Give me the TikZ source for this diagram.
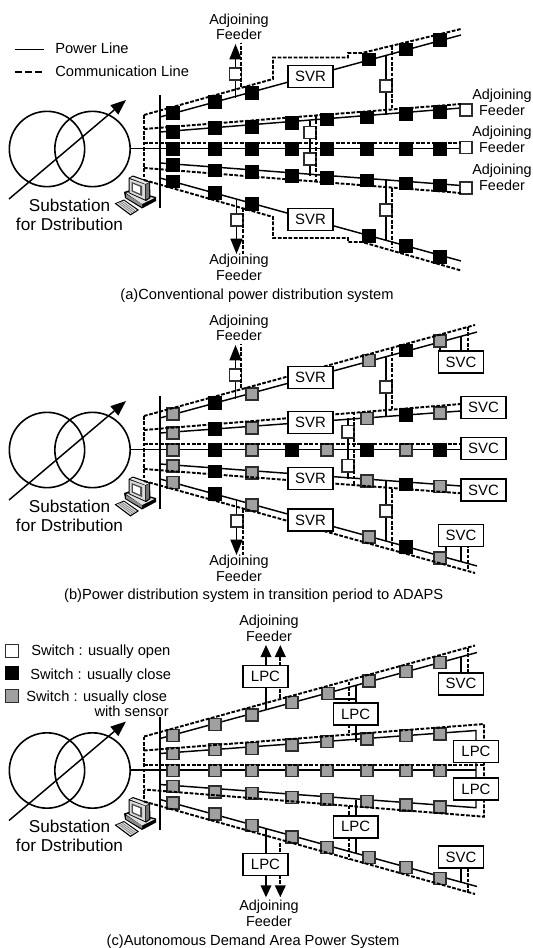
\documentclass[tikz,border=0pt]{standalone}
\usepackage{fontspec}
\setmainfont{Liberation Sans}
\usepackage{tikz}
\usetikzlibrary{arrows.meta, positioning, calc}
\definecolor{sensorgray}{RGB}{160,160,160}
\definecolor{switchedge}{RGB}{45,45,45}

\tikzset{
    pow/.style={line width=1.1pt, draw=black},
    comm/.style={line width=1.45pt, draw=black, dash pattern=on 2.8pt off 1.2pt},
    fat/.style={-{Triangle[length=11.5pt, width=9pt]}},
    thin arrow/.style={-{Triangle[length=9pt, width=8pt]}},
    swo/.style={rectangle, draw=switchedge, fill=white, line width=1pt, minimum size=9.2pt, inner sep=0pt},
    swk/.style={swo, draw=black, fill=black},
    swg/.style={swo, fill=sensorgray},
    unit/.style={rectangle, draw=black, fill=white, line width=1.15pt, minimum width=33.5pt, minimum height=16.5pt, inner sep=0pt, font=\fontsize{11.2pt}{12pt}\selectfont},
    lbl/.style={inner sep=0pt, font=\fontsize{11pt}{13pt}\selectfont},
    adj/.style={inner sep=0pt, align=center, font=\fontsize{10.8pt}{11.6pt}\selectfont},
    captxt/.style={lbl, anchor=base},
    xfmr/.style={circle, draw=black, line width=1.2pt, minimum size=56.5pt, inner sep=0pt}
}

\newcommand{\swrow}[2]{
    \foreach \xx/\yy/\kk [count=\n] in {#2} {\node[sw\kk] (#1\n) at (\xx,\yy) {};}
}

\newcommand{\pcicon}{
    \fill[black] (124,192) -- (130,190) -- (156,197) -- (156,201) -- (142,208.5) -- (125,198) -- cycle;
    \fill[black!12] (126,193) -- (130,192) -- (154.5,198) -- (142,204) -- cycle;
    \fill[black!45] (126,194) -- (142,204) -- (142,207) -- (126,197.5) -- cycle;
    \fill[black] (128.5,178) -- (133,175.5) -- (150,181.5) -- (150.5,198) -- (146,201) -- (128.5,193) -- cycle;
    \fill[black!10] (130,178) -- (133,176.8) -- (148.8,182.3) -- (145.5,184) -- cycle;
    \fill[black!55] (145.8,184.5) -- (149,183) -- (149.2,197.5) -- (146,199.5) -- cycle;
    \fill[black!15] (129.5,179) -- (145,184.5) -- (145,199.5) -- (129.5,192.5) -- cycle;
    \fill[black!70] (131.5,182) -- (142,186) -- (142,196) -- (131.5,191.3) -- cycle;
    \fill[white] (133,184) -- (140,186.8) -- (140,193.6) -- (133,190.5) -- cycle;
    \fill[black] (114.5,203.5) -- (124,199.5) -- (139,210) -- (130.5,215.5) -- cycle;
    \fill[black!15] (116.5,203.5) -- (124,200.7) -- (137,210) -- (130.5,214) -- cycle;
    \foreach \kb in {0.25,0.5,0.75} {\draw[black!60, line width=0.3pt] ($(116.5,203.5)!\kb!(124,200.7)$) -- ($(130.5,214)!\kb!(137,210)$);}
}

\newcommand{\substation}{
    \node[xfmr] (xl) at (47,149) {};
    \node[xfmr] (xr) at (92.5,149) {};
    \coordinate (busa) at (160,95);
    \coordinate (busb) at (160,208);
    \coordinate (ina) at (9,199);
    \coordinate (inb) at (126,100);
    \coordinate (f1) at (160,117);
    \coordinate (f2) at (160,132);
    \coordinate (f4) at (160,163);
    \coordinate (f5) at (160,178);
    \coordinate (d1) at (144,115);
    \coordinate (d2) at (144,129);
    \coordinate (d3) at (144,143.3);
    \coordinate (d4) at (144,168);
    \coordinate (d5) at (144,180);
    \draw[pow] (busa) -- (busb);
    \draw[pow, fat] (ina) -- (inb);
    \node[inner sep=0pt, align=center, font=\fontsize{12.9pt}{14.2pt}\selectfont] (subst) at (69.5,214.5) {Substation\\for Dstribution};
    \draw[comm] (d1) -- (d5);
    \pcicon
}

\newcommand{\adjoiningpair}{
    \coordinate (upa) at (235.5,98);
    \coordinate (upb) at (235.5,44);
    \coordinate (upc) at (241,87);
    \coordinate (upd) at (241,43);
    \coordinate (dna) at (236.5,199);
    \coordinate (dnb) at (236.5,254);
    \coordinate (dnc) at (243,208);
    \coordinate (dnd) at (243,256);
    \draw[pow, fat] (upa) -- (upb);
    \draw[pow, fat] (dna) -- (dnb);
    \node[swo] (wu) at (235.5,74) {};
    \node[swo] (wd) at (237,220) {};
    \draw[comm] (upc) -- (upd);
    \draw[comm] (dnc) -- (dnd);
    \node[adj] (adjtop) at (239,27) {Adjoining\\Feeder};
    \node[adj] (adjbot) at (239,267.5) {Adjoining\\Feeder};
}

\newcommand{\rightties}{
    \coordinate (rua) at (386,55);
    \coordinate (rub) at (386,115);
    \coordinate (ruc) at (392,46);
    \coordinate (rud) at (392,108);
    \coordinate (rla) at (386,180);
    \coordinate (rlb) at (386,240);
    \coordinate (rlc) at (392,188);
    \coordinate (rld) at (392,248);
    \draw[pow] (rua) -- (rub);
    \draw[pow] (rla) -- (rlb);
    \node[swo] (wru) at (386,86) {};
    \node[swo] (wrl) at (386,210) {};
    \draw[comm] (ruc) -- (rud);
    \draw[comm] (rlc) -- (rld);
}

\begin{document}
\begin{tikzpicture}[x=0.75pt, y=-0.75pt]
    \useasboundingbox (0,0) rectangle (532,948);

    \begin{scope}[name prefix=a-]
        \coordinate (lega) at (15,49.5);
        \coordinate (legb) at (44,49.5);
        \coordinate (legc) at (15,72.5);
        \coordinate (legd) at (44,72.5);
        \draw[line width=0.8pt] (lega) -- (legb);
        \draw[line width=1.5pt, dash pattern=on 5.2pt off 2.4pt] (legc) -- (legd);
        \node[lbl, anchor=base west] (legpow) at (55,53.5) {Power Line};
        \node[lbl, anchor=base west] (legcom) at (55,76.5) {Communication Line};
        \substation
        \coordinate (f1e) at (461,35);
        \coordinate (f2e) at (461,108);
        \coordinate (f3e) at (461,148.5);
        \coordinate (f4e) at (461,185.5);
        \coordinate (f5e) at (461,261);
        \coordinate (s3) at (130,148.5);
        \draw[pow] (f1) -- (f1e);
        \draw[pow] (f2) -- (f2e);
        \draw[pow] (s3) -- (f3e);
        \draw[pow] (f4) -- (f4e);
        \draw[pow] (f5) -- (f5e);
        \adjoiningpair
        \rightties
        \coordinate (ma) at (310,121);
        \coordinate (mb) at (310,176);
        \coordinate (mc) at (316,115);
        \coordinate (md) at (316,182);
        \draw[pow] (ma) -- (mb);
        \node[swo] (wm1) at (310,132.5) {};
        \node[swo] (wm2) at (310,159) {};
        \draw[comm] (mc) -- (md);
        \swrow{p}{173/113/k,215/102/k,252/93/k,369/59.5/k,406/49.5/k,440/40/k}
        \swrow{q}{173/132/k,215/128/k,252/127/k,292/123/k,327/119.5/k,367/117.5/k,406/114/k,440/112/k}
        \swrow{r}{173/149/k,215/149/k,252/149/k,292/149/k,327/149/k,367/149/k,406/149/k,440/149/k}
        \swrow{t}{173/165/k,215/170.5/k,252/172/k,292/176/k,327/178/k,367/180.5/k,406/183.5/k,440/185.5/k}
        \swrow{u}{173/181.5/k,215/193/k,252/204/k,369/236/k,406/246/k,440/257/k}
        \node[swo] (wf2) at (466,110) {};
        \node[swo] (wf3) at (466,147.5) {};
        \node[swo] (wf4) at (466,188) {};
        \coordinate (d1a) at (273,79);
        \coordinate (d1b) at (273,57.5);
        \coordinate (d1c) at (348,57.5);
        \coordinate (d1d) at (348,53);
        \coordinate (d1e) at (362,53);
        \coordinate (d1f) at (461,29);
        \draw[comm] (d1) -- (d1a) -- (d1b) -- (d1c) -- (d1d) -- (d1e) -- (d1f);
        \coordinate (d5a) at (273,217);
        \coordinate (d5b) at (273,238);
        \coordinate (d5c) at (348,238);
        \coordinate (d5d) at (348,242);
        \coordinate (d5e) at (362,242);
        \coordinate (d5f) at (461,270.5);
        \draw[comm] (d5) -- (d5a) -- (d5b) -- (d5c) -- (d5d) -- (d5e) -- (d5f);
        \coordinate (d2e) at (461,104);
        \coordinate (d3e) at (461,143.3);
        \coordinate (d4e) at (461,193);
        \draw[comm] (d2) -- (d2e);
        \draw[comm] (d3) -- (d3e);
        \draw[comm] (d4) -- (d4e);
        \node[unit] (svr1) at (310.5,76.5) {SVR};
        \node[unit] (svr2) at (310.5,219.5) {SVR};
        \node[adj, font=\fontsize{10.8pt}{12pt}\selectfont] (adj2) at (502,102) {Adjoining\\Feeder};
        \node[adj, font=\fontsize{10.8pt}{12pt}\selectfont] (adj3) at (502,139) {Adjoining\\Feeder};
        \node[adj, font=\fontsize{10.8pt}{12pt}\selectfont] (adj4) at (502,177) {Adjoining\\Feeder};
        \node[captxt] (capa) at (257,300) {(a)Conventional power distribution system};
    \end{scope}

    \begin{scope}[shift={(0,301)}, name prefix=b-]
        \substation
        \coordinate (f1e) at (477,31);
        \coordinate (f2e) at (461,110);
        \coordinate (f3e) at (461,148.5);
        \coordinate (f4e) at (461,185);
        \coordinate (f5e) at (477,265);
        \coordinate (s3) at (130,148.5);
        \draw[pow] (f1) -- (f1e);
        \draw[pow] (f2) -- (f2e);
        \draw[pow] (s3) -- (f3e);
        \draw[pow] (f4) -- (f4e);
        \draw[pow] (f5) -- (f5e);
        \adjoiningpair
        \rightties
        \coordinate (ma) at (348,117);
        \coordinate (mb) at (348,178);
        \coordinate (mc) at (354,110.5);
        \coordinate (md) at (354,184);
        \draw[pow] (ma) -- (mb);
        \node[swo] (wm1) at (348,130.7) {};
        \node[swo] (wm2) at (348,164.7) {};
        \draw[comm] (mc) -- (md);
        \coordinate (v1a) at (440,40);
        \coordinate (v1b) at (440,55);
        \coordinate (v1c) at (461,35);
        \coordinate (v1d) at (461,55);
        \coordinate (v5a) at (446,256);
        \coordinate (v5b) at (446,240);
        \coordinate (v5c) at (461,260);
        \coordinate (v5d) at (461,240);
        \draw[pow] (v1a) -- (v1b);
        \draw[pow] (v1c) -- (v1d);
        \draw[pow] (v5a) -- (v5b);
        \draw[pow] (v5c) -- (v5d);
        \swrow{p}{173/113/g,215/102/k,252/93/g,369/59.5/g,406/49.5/k,440/40/g}
        \swrow{q}{173/132/g,215/128/k,252/127/g,367/117.5/g,406/114/k,440/112/g}
        \swrow{r}{173/149/g,215/149/k,252/149/g,292/149/k,327/149/g,367/149/k,406/149/g,440/149/k}
        \swrow{t}{173/165/g,215/170.5/k,252/172/g,367/180/g,406/183.5/k,440/185.5/g}
        \swrow{u}{173/181.5/g,215/193/k,252/204/g,369/236/g,406/246/k,440/257/g}
        \coordinate (d1e) at (475,24);
        \coordinate (d2e) at (461,103);
        \coordinate (d3e) at (461,143.3);
        \coordinate (d4e) at (461,192.3);
        \coordinate (d5e) at (475,272);
        \coordinate (v1e) at (468,26);
        \coordinate (v1f) at (468,55);
        \coordinate (v5e) at (468,268);
        \coordinate (v5f) at (468,240);
        \draw[comm] (d1) -- (d1e);
        \draw[comm] (d2) -- (d2e);
        \draw[comm] (d3) -- (d3e);
        \draw[comm] (d4) -- (d4e);
        \draw[comm] (d5) -- (d5e);
        \draw[comm] (v1e) -- (v1f);
        \draw[comm] (v5e) -- (v5f);
        \node[unit] (svr1) at (310.5,76.5) {SVR};
        \node[unit] (svr2) at (310.5,121.3) {SVR};
        \node[unit] (svr3) at (310.5,177.5) {SVR};
        \node[unit] (svr4) at (310.5,219.2) {SVR};
        \node[unit] (svc1) at (461,61) {SVC};
        \node[unit] (svc2) at (483.5,106.3) {SVC};
        \node[unit] (svc3) at (483.5,147.5) {SVC};
        \node[unit] (svc4) at (483.5,189.2) {SVC};
        \node[unit] (svc5) at (461,234.3) {SVC};
        \node[captxt] (capb) at (253.7,298.3) {(b)Power distribution system in transition period to ADAPS};
    \end{scope}

    \begin{scope}[shift={(0,621.5)}, name prefix=c-]
        \node[swo, minimum size=9.5pt] (lego) at (12,29.5) {};
        \node[swk, minimum size=9.5pt] (legk) at (12,51.5) {};
        \node[swg, minimum size=9.5pt] (legg) at (12,74.5) {};
        \node[lbl, anchor=base west] (txto) at (31,34) {Switch : usually open};
        \node[lbl, anchor=base west] (txtk) at (30,57.8) {Switch : usually close};
        \node[lbl, anchor=base west] (txtg) at (26,79.5) {Switch : usually close};
        \node[lbl, anchor=base east] (txts) at (169,95.2) {with sensor};
        \substation
        \coordinate (f1e) at (477,31);
        \coordinate (f2e) at (476,109);
        \coordinate (f3e) at (476,148.5);
        \coordinate (f4e) at (476,186.2);
        \coordinate (f5e) at (477,265);
        \coordinate (s3) at (130,148.5);
        \draw[pow] (f1) -- (f1e);
        \draw[pow] (f2) -- (f2e) -- (f4e) -- (f4);
        \draw[pow] (s3) -- (f3e);
        \draw[pow] (f5) -- (f5e);
        \coordinate (l1a) at (266,88.5);
        \coordinate (l1b) at (266,23.5);
        \coordinate (l1c) at (280.3,76.5);
        \coordinate (l1d) at (280.3,23.5);
        \coordinate (l4a) at (266,206.5);
        \coordinate (l4b) at (266,275.8);
        \coordinate (l4c) at (280.3,221.5);
        \coordinate (l4d) at (280.3,275.8);
        \coordinate (l2a) at (356,64);
        \coordinate (l2b) at (356,120);
        \coordinate (l2c) at (348.7,60);
        \coordinate (l2d) at (348.7,113.5);
        \coordinate (l2e) at (328,77.5);
        \coordinate (l2f) at (356,77.5);
        \coordinate (l3a) at (356,178.5);
        \coordinate (l3b) at (356,232);
        \coordinate (l3c) at (348.7,184);
        \coordinate (l3d) at (348.7,238.5);
        \coordinate (v1a) at (461,35);
        \coordinate (v1b) at (461,55);
        \coordinate (v1c) at (468,26.5);
        \coordinate (v1d) at (468,55);
        \coordinate (v5a) at (461,261.5);
        \coordinate (v5b) at (461,240);
        \coordinate (v5c) at (468,271.5);
        \coordinate (v5d) at (468,240);
        \draw[pow, thin arrow] (l1a) -- (l1b);
        \draw[pow, thin arrow] (l4a) -- (l4b);
        \draw[pow] (l2a) -- (l2b);
        \draw[pow] (l2e) -- (l2f);
        \draw[pow] (l3a) -- (l3b);
        \draw[pow] (v1a) -- (v1b);
        \draw[pow] (v5a) -- (v5b);
        \swrow{p}{173/113.8/g,215/102.8/g,252/93.5/g,292/81/g,328/71.8/g,369/59.5/g,406/50/g,440/40.8/g}
        \swrow{q}{173/132/g,215/128/g,252/127/g,292/123.5/g,327/119.8/g,367/117.5/g,406/114/g,440/112.5/g}
        \swrow{r}{173/149/g,215/149/g,252/149/g,292/149/g,327/149/g,367/149/g,406/149/g,440/149/g}
        \swrow{t}{173/165/g,215/170.5/g,252/172/g,292/175.8/g,327/177.8/g,367/179.8/g,406/183.5/g,440/185.5/g}
        \swrow{u}{173/181.5/g,215/192.5/g,252/204/g,292/215.5/g,327/225.8/g,369/236/g,406/245.8/g,440/256.8/g}
        \coordinate (d1e) at (475,24);
        \coordinate (d2e) at (484,102.5);
        \coordinate (d3e) at (484,143.3);
        \coordinate (d4e) at (484,195.2);
        \coordinate (d5e) at (475,272.5);
        \draw[comm] (d1) -- (d1e);
        \draw[comm] (d2) -- (d2e) -- (d4e) -- (d4);
        \draw[comm] (d3) -- (d3e);
        \draw[comm] (d5) -- (d5e);
        \draw[comm, thin arrow] (l1c) -- (l1d);
        \draw[comm, thin arrow] (l4c) -- (l4d);
        \draw[comm] (l2c) -- (l2d);
        \draw[comm] (l3c) -- (l3d);
        \draw[comm] (v1c) -- (v1d);
        \draw[comm] (v5c) -- (v5d);
        \node[unit] (lpc1) at (265.5,54.8) {LPC};
        \node[unit] (lpc2) at (355.7,92.5) {LPC};
        \node[unit] (lpc3) at (476,130) {LPC};
        \node[unit] (lpc4) at (476,167.7) {LPC};
        \node[unit] (lpc5) at (355.7,205.3) {LPC};
        \node[unit] (lpc6) at (265.5,243.2) {LPC};
        \node[unit] (svc1) at (461,62.3) {SVC};
        \node[unit] (svc2) at (461,235.5) {SVC};
        \node[adj] (adjtop) at (269,7) {Adjoining\\Feeder};
        \node[adj] (adjbot) at (269,292) {Adjoining\\Feeder};
        \node[captxt] (capc) at (253,324) {(c)Autonomous Demand Area Power System};
    \end{scope}
\end{tikzpicture}
\end{document}
